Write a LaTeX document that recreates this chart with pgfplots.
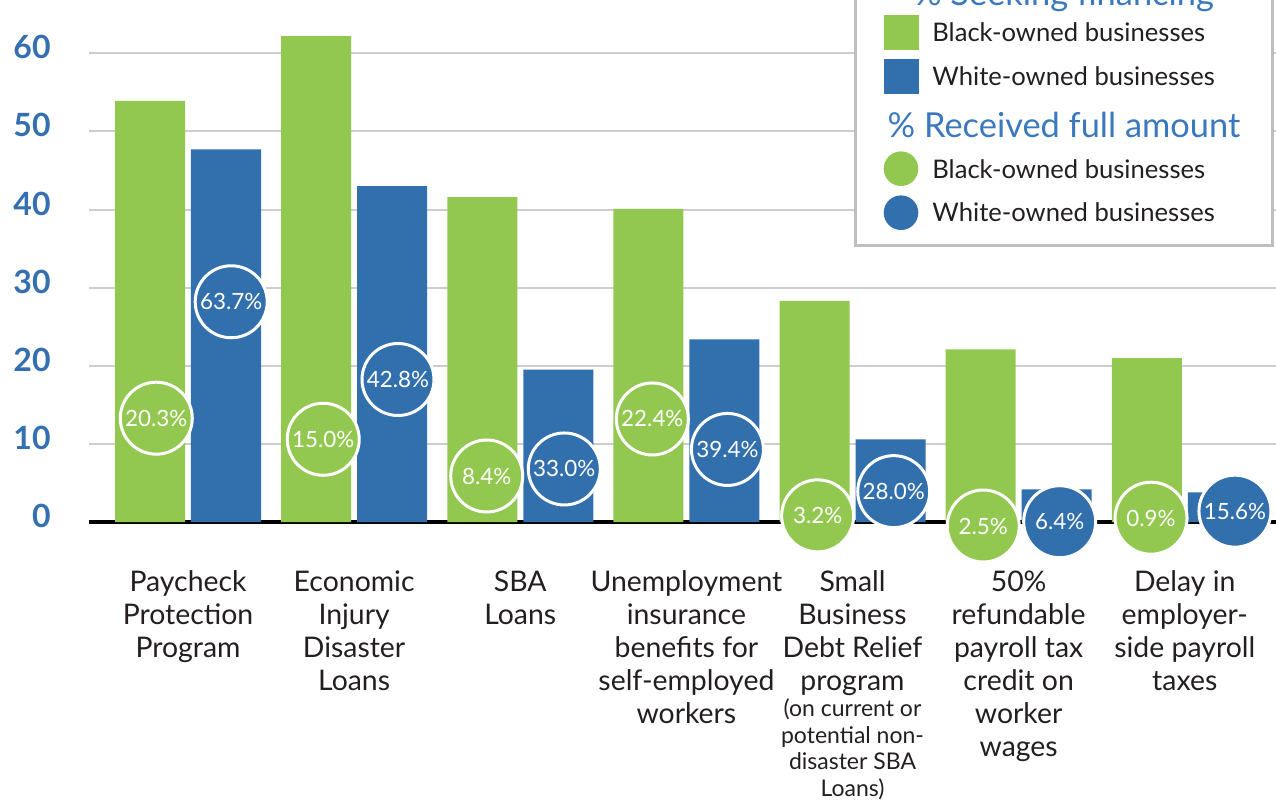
\documentclass[border=0pt]{standalone}
\usepackage{fontspec}
\setmainfont{Lato}
\usepackage{pgfplots}
\pgfplotsset{compat=1.18}
\definecolor{bgreen}{RGB}{147,200,80}
\definecolor{bblue}{RGB}{50,111,173}
\definecolor{tblue}{RGB}{52,112,176}
\definecolor{lblue}{RGB}{58,121,189}
\definecolor{gridgray}{RGB}{205,205,205}
\definecolor{boxgray}{RGB}{190,190,190}
\definecolor{txt}{RGB}{35,31,32}
\newcommand\sm{\fontsize{11.5}{13.25}\selectfont}

\begin{document}
\begin{tikzpicture}
\begin{axis}[
  scale only axis,
  width=593.5pt, height=261.05pt,
  xmin=-0.596, xmax=6.549, ymin=0, ymax=66.82,
  clip=false,
  axis x line*=bottom, axis y line*=left,
  y axis line style={draw=none},
  x axis line style={line width=1.7pt, black, -},
  major tick length=0pt,
  ytick={0,10,...,60},
  ymajorgrids, grid style={gridgray, line width=1pt},
  xtick={0,...,6},
  xticklabels={
    {Paycheck\\Protection\\Program},
    {Economic\\Injury\\Disaster\\Loans},
    {SBA\\Loans},
    {Unemployment\\insurance\\benefits for\\self-employed\\workers},
    {Small\\Business\\Debt Relief\\program\\[-3.25pt]{\sm (on current or}\\[-3.25pt]{\sm potential non-}\\[-3.25pt]{\sm disaster SBA}\\[-3.25pt]{\sm Loans)}},
    {50\%\\refundable\\payroll tax\\credit on\\worker\\wages},
    {Delay in\\employer-\\side payroll\\taxes}},
  xticklabel style={align=center, font=\fontsize{14.2}{16.5}\selectfont,
    text=txt, inner sep=0pt, anchor=north, yshift=-24pt},
  yticklabel style={font=\fontsize{16}{16}\selectfont\bfseries, text=tblue,
    inner sep=0pt, anchor=east, xshift=-19pt, yshift=3pt},
  /pgf/number format/assume math mode=true,
]
% % seeking financing
\addplot[ybar, bar width=0.4214, bar shift=-0.2287, fill=bgreen, draw=none]
  coordinates {(0,53.9) (1,62.2) (2,41.6) (3,40.1) (4,28.3) (5,22.1) (6,21.0)};
\addplot[ybar, bar width=0.4214, bar shift=0.2287, fill=bblue, draw=none]
  coordinates {(0,47.7) (1,43.0) (2,19.5) (3,23.4) (4,10.6) (5,4.2) (6,3.8)};

% % received full amount (circles)
\addplot[only marks, mark=*, mark size=18pt,
  mark options={fill=bgreen, draw=white, line width=1.5pt},
  nodes near coords, point meta=explicit symbolic,
  nodes near coords align={anchor=center},
  every node near coord/.append style={anchor=center, text=white, inner sep=0pt,
    font=\fontsize{11.2}{13}\selectfont}]
  coordinates {(-0.191,13.3) [20.3\%] (0.814,10.6) [15.0\%] (1.798,5.9) [8.4\%]
    (2.795,13.2) [22.4\%] (3.790,0.8) [3.2\%] (4.787,-0.5) [2.5\%] (5.797,0.5) [0.9\%]};
\addplot[only marks, mark=*, mark size=18pt,
  mark options={fill=bblue, draw=white, line width=1.5pt},
  nodes near coords, point meta=explicit symbolic,
  nodes near coords align={anchor=center},
  every node near coord/.append style={anchor=center, text=white, inner sep=0pt,
    font=\fontsize{11.2}{13}\selectfont}]
  coordinates {(0.260,28.2) [63.7\%] (1.264,18.25) [42.8\%] (2.265,6.8) [33.0\%]
    (3.247,9.3) [39.4\%] (4.248,3.9) [28.0\%] (5.247,0.05) [6.4\%] (6.302,1.4) [15.6\%]};

\coordinate (TL) at (axis cs:-1.1317,66.82);
\end{axis}

% legend, in pixel units of the picture (origin top left)
\begin{scope}[shift={(TL)}, x=0.5pt, y=-0.5pt]
  \draw[line width=1.5pt, draw=boxgray, fill=white] (855.5,-30) rectangle (1272.3,245);
  \node[anchor=base, text=lblue, font=\fontsize{17.2}{19}\selectfont] at (1064,5) {\% Seeking financing};
  \fill[bgreen] (884,15) rectangle (919,50);
  \fill[bblue] (884,59) rectangle (919,94);
  \node[anchor=base west, inner sep=0pt, text=txt, font=\fontsize{12.8}{15}\selectfont] at (932,41.7) {Black-owned businesses};
  \node[anchor=base west, inner sep=0pt, text=txt, font=\fontsize{12.8}{15}\selectfont] at (932,85) {White-owned businesses};
  \node[anchor=base, text=lblue, font=\fontsize{17.2}{19}\selectfont] at (1064,137) {\% Received full amount};
  \fill[bgreen] (901,168.7) circle[radius=8.65pt];
  \fill[bblue] (901,212.7) circle[radius=8.65pt];
  \node[anchor=base west, inner sep=0pt, text=txt, font=\fontsize{12.8}{15}\selectfont] at (932,178) {Black-owned businesses};
  \node[anchor=base west, inner sep=0pt, text=txt, font=\fontsize{12.8}{15}\selectfont] at (932,221) {White-owned businesses};
  \pgfresetboundingbox
  \path[use as bounding box] (0,0) rectangle (1276,805);
\end{scope}
\end{tikzpicture}
\end{document}
